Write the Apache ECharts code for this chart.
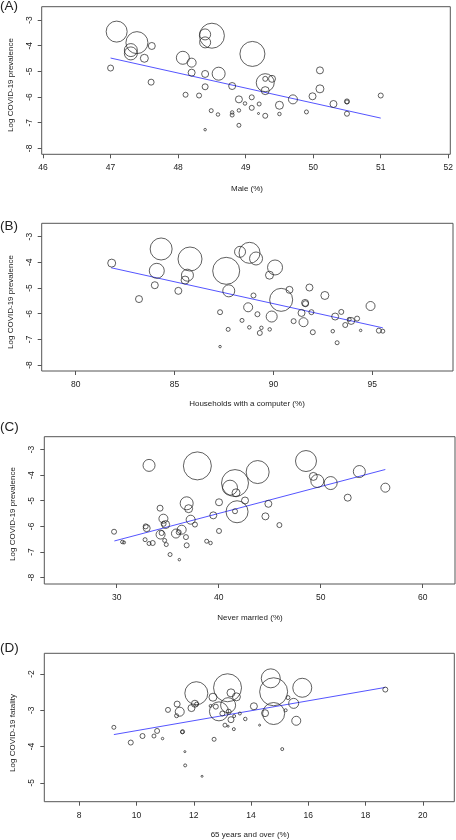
<!DOCTYPE html>
<html>
<head>
<meta charset="utf-8">
<script src="https://cdn.jsdelivr.net/npm/echarts@6/dist/echarts.min.js"></script>
<style>html,body{margin:0;padding:0;background:#fff;}#c{width:456px;height:840px;}</style>
</head>
<body>
<div id="c"></div>
<script>
// ---- Panel A: Male (%) vs Log COVID-19 prevalence ----
const maleX = [47.09,47.39,47.30,47.30,47.61,47.50,47.00,47.60,48.07,48.20,48.50,48.40,48.40,48.20,48.40,48.60,48.40,48.11,48.31,48.80,49.10,49.29,49.29,49.39,49.29,48.90,49.09,48.99,49.20,49.09,48.49,48.59,48.80,48.80,48.90,49.19,49.29,49.50,49.50,48.90,48.40,49.70,49.99,50.10,50.10,50.30,50.50,50.50,50.50,49.90,51.00];
const maleY = [-3.45,-3.88,-4.17,-4.30,-4.01,-4.49,-4.87,-5.42,-4.47,-4.66,-3.61,-3.56,-3.87,-5.05,-5.10,-5.09,-5.60,-5.91,-5.94,-5.57,-4.32,-5.44,-5.29,-5.29,-5.75,-6.09,-6.01,-6.25,-6.27,-6.42,-6.53,-6.68,-6.60,-6.70,-6.52,-6.64,-6.73,-6.66,-6.32,-7.10,-7.27,-6.09,-5.97,-4.96,-5.68,-6.27,-6.17,-6.19,-6.65,-6.58,-5.94];
const maleSize = [21,22,13,13,7,8,6,6,13,9,25,11,11,7,7,13,6,5,5,7,25,18,5,7,8,7,5,3.5,4,5,4,3.5,3.5,4,3.5,2,5,3.5,8,4,2.5,9,7,7,8,7,5,4,5,4,5];
const maleFit = [[47.0,-4.48],[51.0,-6.82]];
const maleTicks = [46,47,48,49,50,51,52];

// ---- Panel B: Households with a computer (%) ----
const compX = [81.82,83.20,84.32,84.10,84.00,85.19,85.78,85.65,85.53,87.61,87.74,87.30,87.71,87.30,88.31,88.79,89.12,88.72,88.41,88.78,88.99,89.19,89.31,89.39,89.81,89.80,90.08,90.39,89.91,90.81,91.02,91.42,91.52,91.60,91.62,91.82,91.92,91.99,92.60,93.00,93.12,93.22,93.43,93.63,93.83,93.93,94.23,94.41,94.91,95.33,95.53];
const compY = [-4.03,-5.43,-3.48,-4.33,-4.89,-5.11,-3.87,-4.50,-4.69,-4.33,-5.11,-5.94,-6.61,-7.28,-3.59,-3.63,-3.85,-5.75,-6.26,-6.53,-5.29,-6.02,-6.75,-6.55,-6.61,-4.50,-4.20,-5.46,-6.11,-5.07,-6.29,-5.97,-6.33,-5.58,-5.61,-4.98,-5.94,-6.72,-5.29,-6.68,-6.11,-7.13,-5.93,-6.44,-6.22,-6.28,-6.19,-6.65,-5.70,-6.66,-6.68];
const compSize = [8,7,22,15,7,7,24,12,8,27,12,5,4,2.5,11,21,13,9,4,3.5,5,5,5,3.5,3.5,8,15,23,11,7,5,7,9,7,6,7,5,5,8,3.5,7,4,5,5,4,7,5,2.5,9,5,4];
const compFit = [[81.79,-4.21],[95.53,-6.55]];
const compTicks = [80,85,90,95];

// ---- Panel C: Never married (%) ----
const nmX = [29.74,30.55,30.72,32.94,32.84,32.78,33.17,33.53,34.25,34.58,34.80,34.60,34.30,34.40,34.70,34.86,35.23,36.14,35.81,36.08,36.37,36.79,36.86,36.86,37.05,37.25,37.67,38.82,39.20,39.47,40.03,40.03,41.80,41.60,37.91,33.17,41.60,41.11,41.70,43.82,42.58,44.87,44.58,45.95,48.56,49.28,49.67,50.98,52.65,53.79,56.34];
const nmY = [-6.21,-6.61,-6.63,-6.07,-6.00,-6.52,-6.67,-6.65,-5.29,-5.70,-5.93,-5.90,-6.32,-6.26,-6.55,-6.71,-7.10,-7.30,-6.28,-6.23,-6.13,-6.42,-6.74,-5.10,-5.31,-5.74,-5.93,-6.58,-6.65,-5.57,-5.06,-6.18,-5.43,-5.41,-3.64,-3.62,-4.31,-4.49,-4.69,-3.88,-4.99,-5.12,-5.61,-5.95,-3.45,-4.05,-4.23,-4.31,-4.88,-3.86,-4.49];
const nmSize = [5,3.5,3,7,5,4,4,5,6,9,8,5,9,5,4,4,4,2.5,9,5,9,5,5,13,8,9,5,4,3.5,7,7,5,22,5,28,12,27,15,8,23,7,7,7,5,21,8,13,13,7,12,9];
const nmFit = [[29.77,-6.57],[56.34,-3.78]];
const nmTicks = [30,40,50,60];

// ---- Panel D: 65 years and over (%) vs Log COVID-19 fatality ----
const oldX = [9.21,9.80,10.21,10.61,10.72,10.91,11.10,11.42,11.51,11.40,11.61,11.60,11.69,11.70,11.92,12.04,12.10,12.09,12.29,12.59,12.67,12.71,12.77,12.88,13.00,13.18,13.20,13.30,13.49,13.22,13.30,13.09,13.20,13.41,13.40,13.61,13.80,14.10,14.30,14.49,14.69,14.79,14.79,15.29,15.21,15.49,15.58,15.79,15.09,18.69];
const oldY = [-3.47,-3.89,-3.71,-3.71,-3.57,-3.78,-2.99,-2.83,-3.04,-3.15,-3.59,-3.60,-4.14,-4.52,-2.94,-2.82,-2.83,-2.53,-4.82,-2.88,-2.64,-3.80,-2.90,-3.03,-3.09,-2.38,-2.86,-2.52,-2.63,-3.04,-3.26,-3.41,-3.44,-3.16,-3.52,-3.09,-3.24,-2.89,-3.41,-3.08,-2.12,-2.49,-3.09,-2.65,-3.00,-2.81,-3.29,-2.38,-4.07,-2.43];
const oldSize = [4,5,5,4,5,2.5,5,6,9,4,4,3.5,2,3,7,7,4,23,2,3,8,4,5,19,5,28,15,8,8,5,6,4,2,3,3,3,3.5,7,2,7,19,28,22,4,3,10,9,19,3,5];
const oldFit = [[9.21,-3.67],[18.69,-2.37]];
const oldTicks = [8,10,12,14,16,18,20];

const prevTicks = [-8,-7,-6,-5,-4,-3];
const fatTicks = [-5,-4,-3,-2];

const zip = (xs, ys, ss) => xs.map((x, i) => [x, ys[i], ss[i]]);

const FONT = '"Liberation Sans", Arial, sans-serif';
const TXT = '#222';
const BOX = '#555';

const panels = [
  {grid:{left:41.7, top:6.7, width:411.3, height:147.6}, xr:[45.98,52.03], yr:[-8.23,-2.48], xt:maleTicks, yt:prevTicks, data:zip(maleX,maleY,maleSize), fit:maleFit},
  {grid:{left:41.7, top:223.3, width:411.3, height:147.7}, xr:[78.28,99.08], yr:[-8.23,-2.48], xt:compTicks, yt:prevTicks, data:zip(compX,compY,compSize), fit:compFit},
  {grid:{left:44.3, top:436.7, width:410.7, height:147.3}, xr:[22.9,63.17], yr:[-8.25,-2.5], xt:nmTicks, yt:prevTicks, data:zip(nmX,nmY,nmSize), fit:nmFit},
  {grid:{left:44.3, top:653.3, width:410, height:148.4}, xr:[6.78,21.10], yr:[-5.52,-1.43], xt:oldTicks, yt:fatTicks, data:zip(oldX,oldY,oldSize), fit:oldFit}
];

const grids = [], xAxes = [], yAxes = [], series = [];
panels.forEach((p, i) => {
  grids.push(Object.assign({show:true, borderColor:BOX, borderWidth:1, backgroundColor:'transparent'}, p.grid));
  xAxes.push({
    type:'value', gridIndex:i, min:p.xr[0], max:p.xr[1],
    axisLine:{show:false}, splitLine:{show:false},
    axisTick:{show:true, length:4, customValues:p.xt, lineStyle:{color:BOX}},
    axisLabel:{customValues:p.xt, margin:9, fontSize:8.5, color:TXT, fontFamily:FONT}
  });
  yAxes.push({
    type:'value', gridIndex:i, min:p.yr[0], max:p.yr[1],
    axisLine:{show:false}, splitLine:{show:false},
    axisTick:{show:true, length:4, customValues:p.yt, lineStyle:{color:BOX}},
    axisLabel:{customValues:p.yt, rotate:90, margin:8, fontSize:8.5, color:TXT, fontFamily:FONT}
  });
  series.push({
    type:'scatter', xAxisIndex:i, yAxisIndex:i, data:p.data,
    symbol:'circle', symbolSize: v => v[2],
    itemStyle:{color:'rgba(0,0,0,0)', borderColor:'#222', borderWidth:0.9},
    silent:true, z:3
  });
  series.push({
    type:'line', xAxisIndex:i, yAxisIndex:i, data:p.fit,
    symbol:'none', lineStyle:{color:'#5555ff', width:1}, silent:true, z:2
  });
});

const txt = (x, y, s, size, rot) => ({
  type:'text', x:x, y:y, rotation: rot ? Math.PI/2 : 0,
  style:{text:s, fontSize:size, fontFamily:FONT, fill:TXT, textAlign:'center', textVerticalAlign:'middle'}
});

const graphic = [
  {type:'text', left:0, top:-1, style:{text:'(A)', fontSize:13.5, fontFamily:FONT, fill:TXT}},
  {type:'text', left:0, top:219, style:{text:'(B)', fontSize:13.5, fontFamily:FONT, fill:TXT}},
  {type:'text', left:0, top:420, style:{text:'(C)', fontSize:13.5, fontFamily:FONT, fill:TXT}},
  {type:'text', left:0, top:641, style:{text:'(D)', fontSize:13.5, fontFamily:FONT, fill:TXT}},
  txt(247, 188.5, 'Male (%)', 8),
  txt(247, 404, 'Households with a computer (%)', 8),
  txt(250, 618, 'Never married (%)', 8),
  txt(250, 835, '65 years and over (%)', 8),
  txt(11, 85, 'Log COVID-19 prevalence', 8, true),
  txt(11, 302, 'Log COVID-19 prevalence', 8, true),
  txt(12.7, 514, 'Log COVID-19 prevalence', 8, true),
  txt(12.7, 733, 'Log COVID-19 fatality', 8, true)
];

const chart = echarts.init(document.getElementById('c'), null, {renderer:'canvas'});
chart.setOption({
  animation:false, backgroundColor:'#fff',
  grid:grids, xAxis:xAxes, yAxis:yAxes, series:series, graphic:graphic
});
</script>
</body>
</html>
